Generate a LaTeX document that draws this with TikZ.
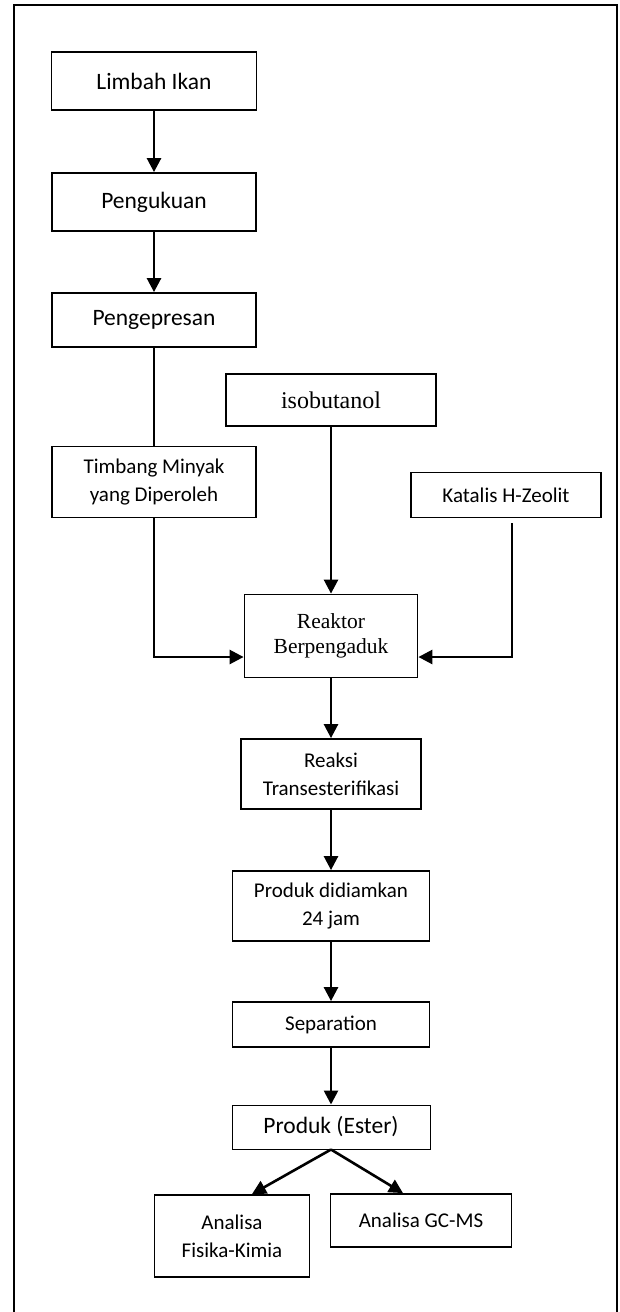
\documentclass[tikz,border=0pt]{standalone}
\usepackage{fontspec}
\setmainfont{Carlito}
\newfontfamily\timesfont{Liberation Serif}
\usetikzlibrary{positioning,arrows.meta}

\begin{document}
\begin{tikzpicture}[x=1pt, y=1pt, >={Triangle[width=14pt,length=14pt]},
    node distance=120pt, on grid,
    proc/.style={draw, line width=1.8pt, align=center, inner sep=0pt,
      font=\fontsize{21}{28}\selectfont},
    bigproc/.style={proc, font=\fontsize{23.5}{28}\selectfont},
    serifproc/.style={proc, font=\timesfont\fontsize{21.5}{25}\selectfont},
    flow/.style={->, line width=2.6pt},
    link/.style={line width=2.6pt}]
    \useasboundingbox (0,0) rectangle (619,-1312);

    % page frame, open at the bottom
    \draw[line width=2.6pt] (14,-1312) |- (617,-5) -- (617,-1312);

    % left column
    \node[bigproc, minimum width=205pt, minimum height=58pt] (limbah) at (154,-81) {Limbah Ikan};
    \node[bigproc, minimum width=204pt, minimum height=58pt, below=121pt of limbah] (pengukuan) {Pengukuan};
    \node[bigproc, minimum width=204pt, minimum height=54pt, below=118pt of pengukuan] (pengepresan) {Pengepresan};
    \node[proc, minimum width=204pt, minimum height=71pt, below=162pt of pengepresan] (timbang) {Timbang Minyak\\yang Diperoleh};

    % feeds
    \node[serifproc, font=\timesfont\fontsize{24}{28}\selectfont, minimum width=210pt, minimum height=52pt] (isobutanol) at (331,-400) {isobutanol};
    \node[proc, minimum width=190pt, minimum height=45pt] (katalis) at (506,-495) {Katalis H-Zeolit};

    % main column
    \node[serifproc, minimum width=173pt, minimum height=83pt, below=236pt of isobutanol] (reaktor) {Reaktor\\Berpengaduk};
    \node[proc, minimum width=180pt, minimum height=70pt, below=138pt of reaktor] (reaksi) {Reaksi\\Transesterifikasi};
    \node[proc, minimum width=197pt, minimum height=70pt, below=132pt of reaksi] (didiamkan) {Produk didiamkan\\24 jam};
    \node[proc, minimum width=197pt, minimum height=45pt, below=118.5pt of didiamkan] (separation) {Separation};
    \node[bigproc, line width=1pt, minimum width=198pt, minimum height=44pt, below=102.5pt of separation] (ester) {Produk (Ester)};

    % analyses
    \node[proc, minimum width=155pt, minimum height=82pt] (fisika) at (232,-1236) {Analisa\\Fisika-Kimia};
    \node[proc, minimum width=181pt, minimum height=53pt] (gcms) at (421,-1220.5) {Analisa GC-MS};

    % flow
    \draw[flow] (limbah) -- (pengukuan);
    \draw[flow] (pengukuan) -- (pengepresan);
    \draw[link] (pengepresan) -- (timbang);
    \draw[flow] (timbang.south) |- ([yshift=-21pt]reaktor.west);
    \draw[flow] (isobutanol) -- (reaktor);
    \draw[flow] ([xshift=6pt,yshift=-5pt]katalis.south) |- ([yshift=-21pt]reaktor.east);
    \draw[flow] (reaktor) -- (reaksi);
    \draw[flow] (reaksi) -- (didiamkan);
    \draw[flow] (didiamkan) -- (separation);
    \draw[flow] (separation) -- (ester);

    % split to the two analyses
    \draw[flow] (ester.south) -- ([xshift=20pt]fisika.north);
    \draw[flow] (ester.south) -- ([xshift=-18pt]gcms.north);
  \end{tikzpicture}
\end{document}
